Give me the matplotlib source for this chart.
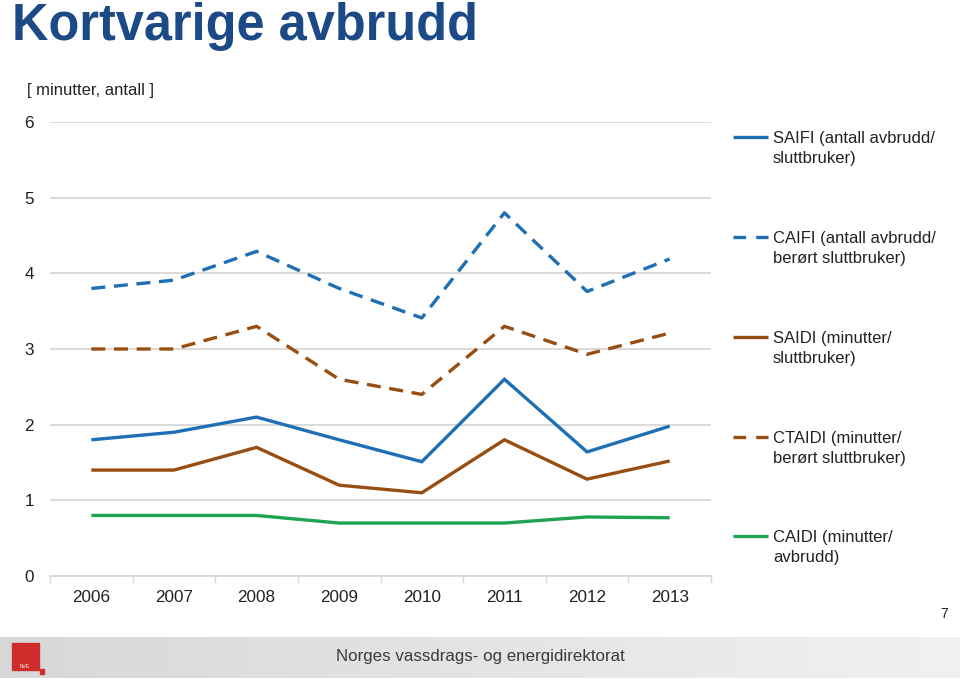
import numpy as np
import matplotlib
matplotlib.use("Agg")
import matplotlib.pyplot as plt
from matplotlib.lines import Line2D
from matplotlib.patches import Rectangle

plt.rcParams['font.family'] = ['Liberation Sans', 'DejaVu Sans']

years = ["2006", "2007", "2008", "2009", "2010", "2011", "2012", "2013"]
saifi = [1.80, 1.90, 2.10, 1.80, 1.51, 2.60, 1.64, 1.98]
caifi = [3.80, 3.91, 4.29, 3.80, 3.41, 4.80, 3.76, 4.19]
saidi = [1.40, 1.40, 1.70, 1.20, 1.10, 1.80, 1.28, 1.52]
ctaidi = [3.00, 3.00, 3.30, 2.60, 2.40, 3.30, 2.93, 3.21]
caidi = [0.80, 0.80, 0.80, 0.70, 0.70, 0.70, 0.78, 0.77]

labels = ["SAIFI (antall avbrudd/\nsluttbruker)",
          "CAIFI (antall avbrudd/\nberørt sluttbruker)",
          "SAIDI (minutter/\nsluttbruker)",
          "CTAIDI (minutter/\nberørt sluttbruker)",
          "CAIDI (minutter/\navbrudd)"]

BLUE = "#1f6fb4"
BROWN = "#974e12"
GREEN = "#1fa454"
GRID = "#d9d9d9"

W, H = 960, 682
def fx(p): return p / W
def fy(p): return 1 - p / H

fig = plt.figure(figsize=(9.6, 6.82), dpi=100)
fig.patch.set_facecolor("white")

ax = fig.add_axes([fx(50), fy(576), fx(711) - fx(50), fy(122) - fy(576)])
x = np.arange(len(years))
lw = 2.4
dash = (4.2, 2.6)
series = [
    (saifi, BLUE, "-"),
    (caifi, BLUE, "--"),
    (saidi, BROWN, "-"),
    (ctaidi, BROWN, "--"),
    (caidi, GREEN, "-"),
]
for vals, col, ls in series:
    ln, = ax.plot(x, vals, color=col, lw=lw, solid_joinstyle="miter",
                  solid_capstyle="butt")
    if ls == "--":
        ln.set_dashes(dash)

ax.set_xlim(-0.5, len(years) - 0.5)
ax.set_ylim(0, 6)
ax.set_yticks(range(0, 7))
ax.set_yticklabels([str(v) for v in range(0, 7)])
ax.set_xticks(x)
ax.set_xticklabels(years)
ax.set_xticks(np.arange(-0.5, len(years)), minor=True)
ax.tick_params(axis="x", which="major", length=0, pad=10, labelsize=12.3, colors="#222222")
ax.tick_params(axis="x", which="minor", length=5, width=1, color=GRID, direction="out")
ax.tick_params(axis="y", length=0, pad=11.5, labelsize=12.3, colors="#222222")
ax.yaxis.grid(True, color=GRID, lw=1.4)
ax.set_axisbelow(True)
for s in ["top", "right", "left"]:
    ax.spines[s].set_visible(False)
ax.spines["bottom"].set_color(GRID)
ax.spines["bottom"].set_linewidth(1.4)
ax.set_facecolor("none")

# Title and unit label
fig.text(fx(12), fy(40), "Kortvarige avbrudd", fontsize=36.4, fontweight="bold",
         color="#1c4a86", va="baseline", ha="left")
fig.text(fx(27), fy(90), "[ minutter, antall ]", fontsize=12, color="#222222",
         va="center", ha="left")

# Legend (manual, handle aligned with first text line)
leg_y = [137, 237, 337, 437, 536]
for (vals, col, ls), lab, yy in zip(series, labels, leg_y):
    l = Line2D([fx(733), fx(768)], [fy(yy), fy(yy)], transform=fig.transFigure,
               color=col, lw=lw, solid_capstyle="butt")
    if ls == "--":
        l.set_dashes((3.8, 3.0))
    fig.add_artist(l)
    fig.text(fx(773), fy(yy - 6), lab, fontsize=12, color="#222222",
             va="top", ha="left", linespacing=1.42)

# Page number
fig.text(fx(944), fy(614), "7", fontsize=10, color="#222222", ha="center", va="center")

# Footer band
fax = fig.add_axes([0, fy(678), 1, fy(637) - fy(678)])
grad = np.linspace(0, 1, 256)
base = 0.845 + 0.10 * grad
img = np.dstack([base, base, base])
fax.imshow(np.repeat(img, 2, axis=0), aspect="auto", extent=[0, 1, 0, 1])
fax.set_xlim(0, 1)
fax.set_ylim(0, 1)
fax.axis("off")
fax.add_patch(Rectangle((fx(12), 1 - (670 - 637) / 41), fx(39) - fx(12), (670 - 643) / 41,
                        color="#d02b2b", transform=fax.transAxes))
fax.add_patch(Rectangle((fx(40), 1 - (674 - 637) / 41), fx(44) - fx(40), 5 / 41,
                        color="#d02b2b", transform=fax.transAxes))
fax.text(fx(25), 1 - (667 - 637) / 41, "NVE", fontsize=3.5, color="white",
         ha="center", va="center", transform=fax.transAxes)
fig.text(fx(480), fy(657), "Norges vassdrags- og energidirektorat",
         fontsize=12.2, color="#3a3a3a", ha="center", va="center")

fig.savefig("out.png", dpi=100, facecolor="white")
